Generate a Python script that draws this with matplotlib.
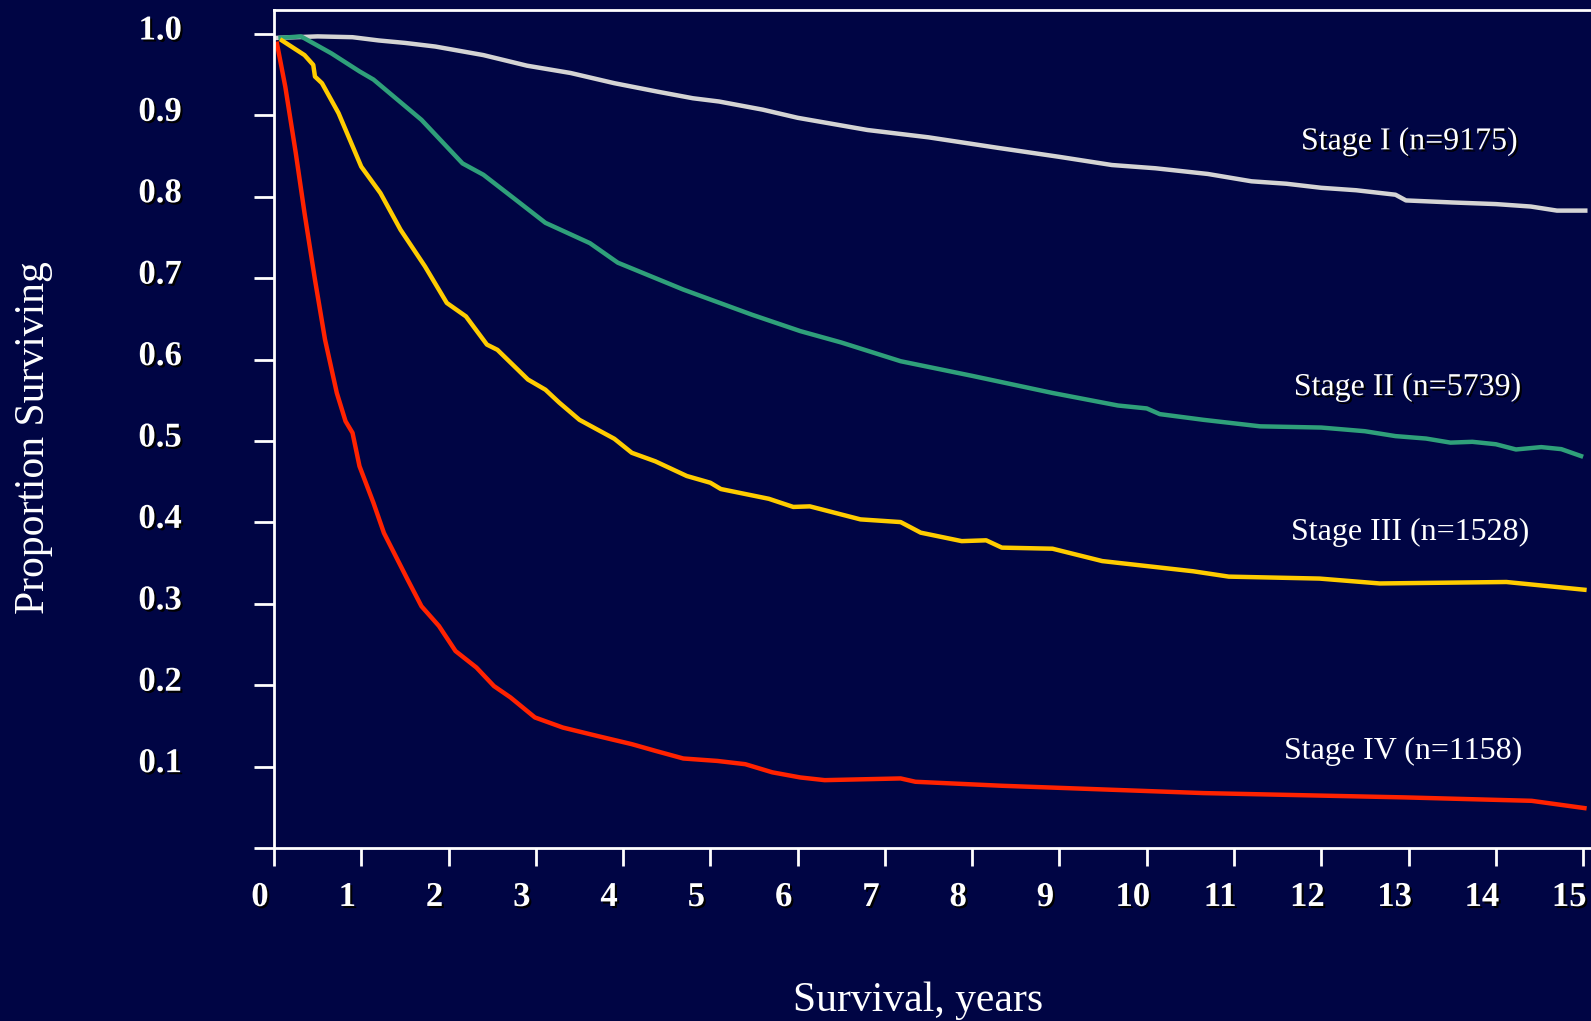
# survival by stage, redrawn from the slide
# curve values

import matplotlib.pyplot as plt
import matplotlib.patheffects as pe
from matplotlib.transforms import ScaledTranslation

stage1_t = [0.0, 0.5, 0.9, 1.2, 1.5, 1.85, 2.4, 2.9, 3.4, 3.9, 4.4, 4.8, 5.1, 5.6, 6.0,
            6.8, 7.5, 8.3, 9.0, 9.6, 10.1, 10.7, 11.2, 11.6, 12.0, 12.4, 12.85, 12.97,
            13.5, 14.0, 14.4, 14.7, 15.05]
stage1_v = [0.995, 0.997, 0.996, 0.992, 0.989, 0.9845, 0.974, 0.961, 0.952, 0.9395, 0.929,
            0.921, 0.917, 0.907, 0.897, 0.882, 0.873, 0.860, 0.849, 0.839, 0.835, 0.828,
            0.819, 0.816, 0.811, 0.808, 0.8025, 0.7955, 0.793, 0.791, 0.788, 0.783, 0.783]

stage2_t = [0.05, 0.31, 0.66, 0.98, 1.14, 1.69, 2.16, 2.4, 2.75, 3.11, 3.62, 3.94, 4.69,
            5.48, 6.03, 6.5, 7.18, 8.0, 8.92, 9.67, 10.0, 10.15, 10.65, 11.3, 12.0, 12.5,
            12.85, 13.2, 13.48, 13.73, 14.0, 14.23, 14.52, 14.75, 15.0]
stage2_v = [0.995, 0.997, 0.976, 0.954, 0.944, 0.8945, 0.841, 0.827, 0.798, 0.768, 0.743,
            0.719, 0.686, 0.655, 0.635, 0.621, 0.598, 0.580, 0.559, 0.5436, 0.540, 0.533,
            0.526, 0.518, 0.5165, 0.512, 0.506, 0.503, 0.498, 0.499, 0.496, 0.4896, 0.4925,
            0.490, 0.4806]

stage3_t = [0.07, 0.35, 0.45, 0.47, 0.55, 0.74, 1.0, 1.22, 1.45, 1.73, 1.98, 2.2, 2.44,
            2.56, 2.91, 3.11, 3.27, 3.5, 3.9, 4.1, 4.37, 4.73, 5.0, 5.12, 5.67, 5.95, 6.14,
            6.72, 7.18, 7.41, 7.88, 8.16, 8.34, 8.92, 9.49, 10.53, 10.94, 11.98, 12.67,
            14.12, 15.04]
stage3_v = [0.9935, 0.974, 0.962, 0.9476, 0.9395, 0.9027, 0.837, 0.8045, 0.7595, 0.7145,
            0.6696, 0.653, 0.6184, 0.612, 0.5755, 0.563, 0.547, 0.526, 0.5027, 0.4855,
            0.475, 0.457, 0.4487, 0.441, 0.429, 0.419, 0.4197, 0.4037, 0.4004, 0.3874,
            0.377, 0.378, 0.369, 0.3677, 0.3525, 0.340, 0.3334, 0.331, 0.325, 0.3268, 0.317]

stage4_t = [0.03, 0.13, 0.25, 0.35, 0.47, 0.585, 0.72, 0.82, 0.9, 0.98, 1.14, 1.26, 1.53,
            1.69, 1.89, 2.08, 2.32, 2.52, 2.71, 2.99, 3.31, 3.70, 4.1, 4.37, 4.69, 5.08,
            5.40, 5.71, 6.03, 6.31, 7.18, 7.35, 8.34, 10.65, 12.96, 14.41, 15.04]
stage4_v = [0.9906, 0.935, 0.8536, 0.78, 0.698, 0.6245, 0.559, 0.5243, 0.51, 0.469, 0.424,
            0.387, 0.330, 0.297, 0.2728, 0.242, 0.2217, 0.199, 0.185, 0.1604, 0.148, 0.1378,
            0.1276, 0.1194, 0.110, 0.107, 0.103, 0.093, 0.0867, 0.0834, 0.0855, 0.0814,
            0.0765, 0.0675, 0.0622, 0.058, 0.0487]

stage_labels = ['Stage I (n=9175)', 'Stage II (n=5739)', 'Stage III (n=1528)',
                'Stage IV (n=1158)']
xticks = list(range(16))
yticks = [i / 10 for i in range(11)]
ytick_labels = [''] + ['%.1f' % v for v in yticks[1:]]

BG = '#000544'
colors = ['#D4D4D4', '#2FA07A', '#FFCC00', '#FF2200']

plt.rcParams['font.family'] = ['Liberation Serif', 'DejaVu Serif']

fig = plt.figure(figsize=(15.91, 10.21), dpi=100, facecolor=BG)
ax = fig.add_axes([0.1722, 0.1694, 0.8278, 0.8208])
ax.set_facecolor(BG)

curves = [(stage1_t, stage1_v), (stage2_t, stage2_v),
          (stage3_t, stage3_v), (stage4_t, stage4_v)]
for (t, v), c in zip(curves, colors):
    ax.plot(t, v, color=c, lw=3.2, solid_joinstyle='round', solid_capstyle='butt')

ax.set_xlim(0, 15.09)
ax.set_ylim(0, 1.0294)

for side in ['left', 'bottom', 'top']:
    ax.spines[side].set_color('white')
    ax.spines[side].set_linewidth(2)
ax.spines['right'].set_visible(False)

shadow = [pe.withSimplePatchShadow(offset=(1.5, -1.5), shadow_rgbFace='black', alpha=1.0)]

ax.set_xticks(xticks)
ax.set_yticks(yticks, labels=ytick_labels)
ax.tick_params(axis='x', direction='out', length=12.7, width=2, color='white',
               pad=11, labelsize=25, labelcolor='white')
ax.tick_params(axis='y', direction='out', length=14.4, width=2, color='white',
               pad=52, labelsize=25, labelcolor='white')

dx = ScaledTranslation(-0.14, 0, fig.dpi_scale_trans)
for lab in ax.get_xticklabels():
    lab.set_fontweight('bold')
    lab.set_path_effects(shadow)
    lab.set_transform(lab.get_transform() + dx)
dy = ScaledTranslation(0, 0.07, fig.dpi_scale_trans)
for lab in ax.get_yticklabels():
    lab.set_fontweight('bold')
    lab.set_path_effects(shadow)
    lab.set_transform(lab.get_transform() + dy)

# stage labels, the first two carry a drop shadow on the slide
label_pos = [(13.01, 0.8675), (12.99, 0.5656), (13.02, 0.3877), (12.94, 0.119)]
for i, (txt, (x, y)) in enumerate(zip(stage_labels, label_pos)):
    t = ax.text(x, y, txt, color='white', fontsize=23, ha='center', va='center')
    if i < 2:
        t.set_path_effects(shadow)

fig.text(918 / 1591, 1 - 1001 / 1021, 'Survival, years', color='white', fontsize=30,
         ha='center', va='center')
fig.text(34 / 1591, 1 - 438 / 1021, 'Proportion Surviving', color='white', fontsize=30,
         ha='center', va='center', rotation=90)

fig.savefig('out.png', dpi=100, facecolor=BG)
